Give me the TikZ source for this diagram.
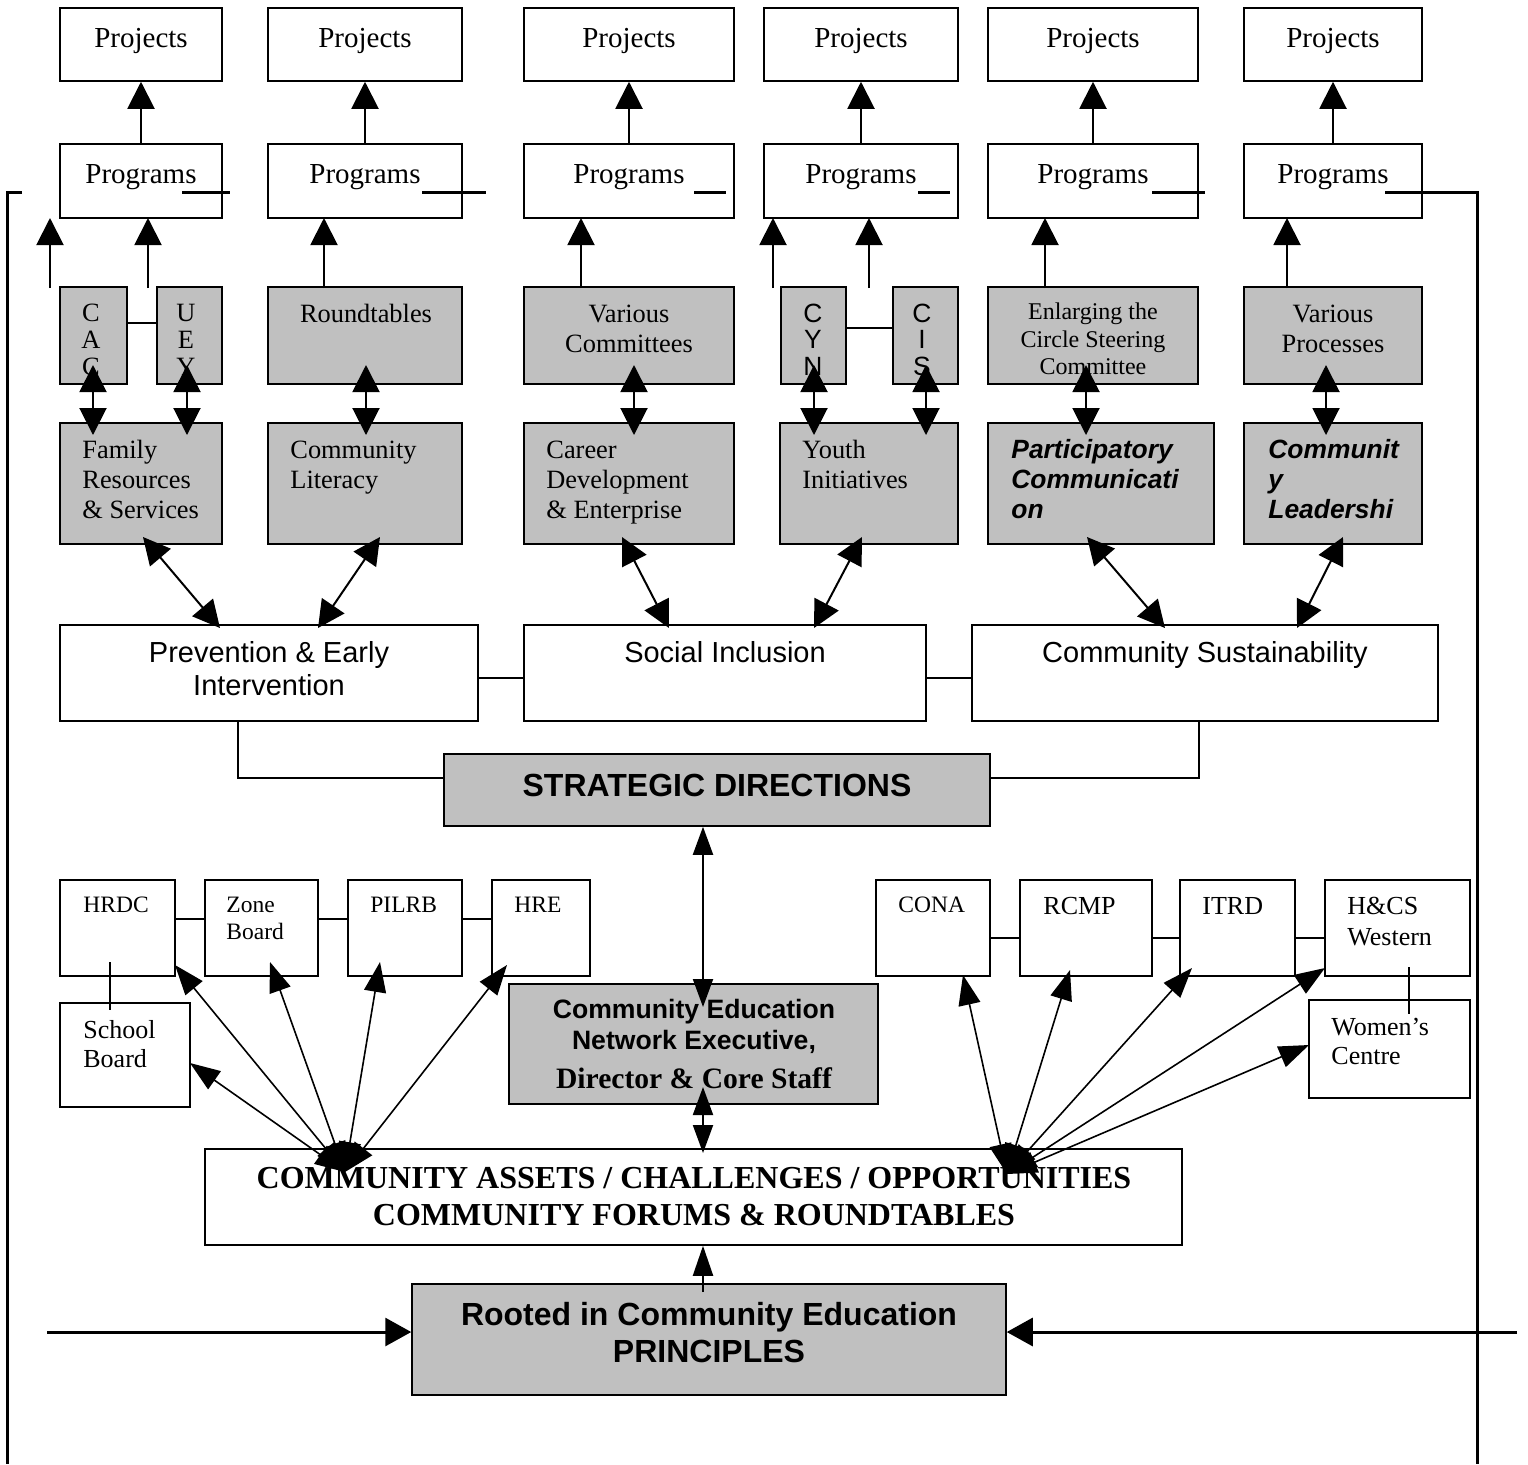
\documentclass[tikz,border=0pt]{standalone}
\usepackage{fontspec}
\setmainfont{Liberation Serif}
\setsansfont{Liberation Sans}
\usetikzlibrary{arrows.meta,fit}
\definecolor{boxgray}{HTML}{C0C0C0}
\newcommand\szProj{\fontsize{14.5pt}{17pt}\selectfont\rmfamily}
\newcommand\szSer{\fontsize{13.2pt}{15pt}\selectfont\rmfamily}
\newcommand\szEnl{\fontsize{12pt}{14pt}\selectfont\rmfamily}
\newcommand\szSansL{\fontsize{13.2pt}{15pt}\selectfont\sffamily}
\newcommand\szBI{\fontsize{13.2pt}{15pt}\selectfont\sffamily\bfseries\itshape}
\newcommand\szSD{\fontsize{14.5pt}{17pt}\selectfont\sffamily}
\newcommand\szBig{\fontsize{16pt}{19pt}\selectfont\sffamily\bfseries}
\newcommand\szCen{\fontsize{13.3pt}{16pt}\selectfont\sffamily\bfseries}
\newcommand\szDir{\fontsize{14.8pt}{17pt}\selectfont\rmfamily\bfseries}
\newcommand\szAss{\fontsize{16pt}{19pt}\selectfont\rmfamily\bfseries}
\newcommand\szSm{\fontsize{11.75pt}{14pt}\selectfont\rmfamily}
\newcommand\szMd{\fontsize{13pt}{15pt}\selectfont\rmfamily}
\begin{document}
\begin{tikzpicture}[x=0.5pt,y=-0.5pt,
  box/.style={draw,line width=0.75pt,inner sep=0pt},
  wbox/.style={box,fill=white},
  gbox/.style={box,fill=boxgray},
  ln/.style={line width=1pt},
  thk/.style={line width=1.5pt},
  tl/.style={inner sep=0pt,anchor=base west},
  tc/.style={inner sep=0pt,anchor=base},
  upar/.style={ln,-{Triangle[length=13.5pt,width=13.5pt]}},
  dbl/.style={ln,{Triangle[length=13.5pt,width=13.5pt]}-{Triangle[length=13.5pt,width=13.5pt]}},
  fan/.style={line width=0.8pt,{Triangle[length=15pt,width=11pt]}-{Triangle[length=15pt,width=11pt]}},
  nar/.style={ln,-{Triangle[length=15pt,width=10pt]}},
  ndbl/.style={ln,{Triangle[length=14pt,width=10pt]}-{Triangle[length=14pt,width=10pt]}},
  side/.style={thk,-{Triangle[length=13pt,width=14pt]}}
]
\useasboundingbox (0,0) rectangle (1528,1464);

% ---------- Row 1: Projects
\node[wbox,fit={(60,8)(222,81)}] (pj1) {};
\node[wbox,fit={(268,8)(462,81)}] (pj2) {};
\node[wbox,fit={(524,8)(734,81)}] (pj3) {};
\node[wbox,fit={(764,8)(958,81)}] (pj4) {};
\node[wbox,fit={(988,8)(1198,81)}] (pj5) {};
\node[wbox,fit={(1244,8)(1422,81)}] (pj6) {};
\foreach \n/\x in {1/141,2/365,3/629,4/861,5/1093,6/1333}
  \node[tc,font=\szProj] (pjt\n) at (\x,47) {Projects};

% ---------- Row 2: Programs
\node[wbox,fit={(60,144)(222,218)}] (pg1) {};
\node[wbox,fit={(268,144)(462,218)}] (pg2) {};
\node[wbox,fit={(524,144)(734,218)}] (pg3) {};
\node[wbox,fit={(764,144)(958,218)}] (pg4) {};
\node[wbox,fit={(988,144)(1198,218)}] (pg5) {};
\node[wbox,fit={(1244,144)(1422,218)}] (pg6) {};
\foreach \n/\x in {1/141,2/365,3/629,4/861,5/1093,6/1333}
  \node[tc,font=\szProj] (pgt\n) at (\x,183) {Programs};

% ---------- Row 3: grey boxes
\node[gbox,fit={(60,287)(127,384)}] (cac) {};
\node[gbox,fit={(157,287)(222,384)}] (uey) {};
\node[gbox,fit={(268,287)(462,384)}] (rt) {};
\node[gbox,fit={(524,287)(734,384)}] (vc) {};
\node[gbox,fit={(781,287)(846,384)}] (cyn) {};
\node[gbox,fit={(893,287)(958,384)}] (cis) {};
\node[gbox,fit={(988,287)(1198,384)}] (etc) {};
\node[gbox,fit={(1244,287)(1422,384)}] (vp) {};

\node[tc,font=\szSer] (cac1) at (91,321) {C};
\node[tc,font=\szSer] (cac2) at (91,348) {A};
\node[tc,font=\szSer] (cac3) at (91,375) {C};
\node[tc,font=\szSer] (uey1) at (186,321) {U};
\node[tc,font=\szSer] (uey2) at (186,348) {E};
\node[tc,font=\szSer] (uey3) at (186,375) {Y};
\node[tc,font=\szSer] (rtt) at (366,322) {Roundtables};
\node[tc,font=\szSer] (vct1) at (629,322) {Various};
\node[tc,font=\szSer] (vct2) at (629,352) {Committees};
\node[tc,font=\szSansL] (cyn1) at (813,322) {C};
\node[tc,font=\szSansL] (cyn2) at (813,348) {Y};
\node[tc,font=\szSansL] (cyn3) at (813,375) {N};
\node[tc,font=\szSansL] (cis1) at (922,322) {C};
\node[tc,font=\szSansL] (cis2) at (922,348) {I};
\node[tc,font=\szSansL] (cis3) at (922,375) {S};
\node[tc,font=\szEnl] (etc1) at (1093,319) {Enlarging the};
\node[tc,font=\szEnl] (etc2) at (1093,347) {Circle Steering};
\node[tc,font=\szEnl] (etc3) at (1093,374) {Committee};
\node[tc,font=\szSer] (vpt1) at (1333,322) {Various};
\node[tc,font=\szSer] (vpt2) at (1333,352) {Processes};

\draw[ln] (cac.east |- 0,323) -- (uey.west |- 0,323);
\draw[ln] (cyn.east |- 0,328) -- (cis.west |- 0,328);

% ---------- Row 4: grey boxes
\node[gbox,fit={(60,423)(222,544)}] (fam) {};
\node[gbox,fit={(268,423)(462,544)}] (lit) {};
\node[gbox,fit={(524,423)(734,544)}] (car) {};
\node[gbox,fit={(780,423)(958,544)}] (yth) {};
\node[gbox,fit={(988,423)(1214,544)}] (par) {};
\node[gbox,fit={(1244,423)(1422,544)}] (lead) {};

\node[tl,font=\szSer] (fam1) at (82,458) {Family};
\node[tl,font=\szSer] (fam2) at (82,488) {Resources};
\node[tl,font=\szSer] (fam3) at (82,518) {\& Services};
\node[tl,font=\szSer] (lit1) at (290,458) {Community};
\node[tl,font=\szSer] (lit2) at (290,488) {Literacy};
\node[tl,font=\szSer] (car1) at (546,458) {Career};
\node[tl,font=\szSer] (car2) at (546,488) {Development};
\node[tl,font=\szSer] (car3) at (546,518) {\& Enterprise};
\node[tl,font=\szSer] (yth1) at (802,458) {Youth};
\node[tl,font=\szSer] (yth2) at (802,488) {Initiatives};
\node[tl,font=\szBI] (par1) at (1011,458) {Participatory};
\node[tl,font=\szBI] (par2) at (1011,488) {Communicati};
\node[tl,font=\szBI] (par3) at (1011,518) {on};
\node[tl,font=\szBI] (lead1) at (1268,458) {Communit};
\node[tl,font=\szBI] (lead2) at (1268,488) {y};
\node[tl,font=\szBI] (lead3) at (1268,518) {Leadershi};

% ---------- Row 5: strategic areas
\node[wbox,fit={(60,625)(478,721)}] (pei) {};
\node[wbox,fit={(524,625)(926,721)}] (si) {};
\node[wbox,fit={(972,625)(1438,721)}] (cs) {};
\node[tc,font=\szSD] (pei1) at (269,662) {Prevention \& Early};
\node[tc,font=\szSD] (pei2) at (269,695) {Intervention};
\node[tc,font=\szSD] (sit) at (725,662) {Social Inclusion};
\node[tc,font=\szSD] (cst) at (1205,662) {Community Sustainability};
\draw[ln] (pei.east |- 0,678) -- (si.west |- 0,678);
\draw[ln] (si.east |- 0,678) -- (cs.west |- 0,678);

% ---------- Strategic directions
\node[gbox,fit={(444,754)(990,826)}] (sd) {};
\node[tc,font=\szBig] (sdt) at (717,796) {STRATEGIC DIRECTIONS};
\draw[ln] (238,721) -- (238,778) -- (sd.west |- 0,778);
\draw[ln] (1199,721) -- (1199,778) -- (sd.east |- 0,778);

% ---------- Left partner cluster
\node[wbox,fit={(60,880)(175,976)}] (hrdc) {};
\node[wbox,fit={(205,880)(318,976)}] (zone) {};
\node[wbox,fit={(348,880)(462,976)}] (pilrb) {};
\node[wbox,fit={(492,880)(590,976)}] (hre) {};
\node[wbox,fit={(60,1003)(190,1107)}] (sb) {};
\node[tl,font=\szSm] (hrdct) at (83,912) {HRDC};
\node[tl,font=\szSm] (zone1) at (226,912) {Zone};
\node[tl,font=\szSm] (zone2) at (226,939) {Board};
\node[tl,font=\szSm] (pilrbt) at (370,912) {PILRB};
\node[tl,font=\szSm] (hret) at (514,912) {HRE};
\node[tl,font=\szMd] (sb1) at (83,1038) {School};
\node[tl,font=\szMd] (sb2) at (83,1067) {Board};
\draw[ln] (hrdc.east |- 0,919) -- (zone.west |- 0,919);
\draw[ln] (zone.east |- 0,919) -- (pilrb.west |- 0,919);
\draw[ln] (pilrb.east |- 0,919) -- (hre.west |- 0,919);
\draw[ln] (110,962) -- (110,1010);

% ---------- Right partner cluster
\node[wbox,fit={(876,880)(990,976)}] (cona) {};
\node[wbox,fit={(1020,880)(1152,976)}] (rcmp) {};
\node[wbox,fit={(1180,880)(1295,976)}] (itrd) {};
\node[wbox,fit={(1325,880)(1470,976)}] (hcs) {};
\node[wbox,fit={(1309,1000)(1470,1098)}] (wc) {};
\node[tl,font=\szSm] (conat) at (898,912) {CONA};
\node[tl,font=\szMd] (rcmpt) at (1043,914) {RCMP};
\node[tl,font=\szMd] (itrdt) at (1202,914) {ITRD};
\node[tl,font=\szMd] (hcs1) at (1347,914) {H\&CS};
\node[tl,font=\szMd] (hcs2) at (1347,945) {Western};
\node[tl,font=\szMd] (wc1) at (1331,1035) {Women’s};
\node[tl,font=\szMd] (wc2) at (1331,1064) {Centre};
\draw[ln] (cona.east |- 0,938) -- (rcmp.west |- 0,938);
\draw[ln] (rcmp.east |- 0,938) -- (itrd.west |- 0,938);
\draw[ln] (itrd.east |- 0,938) -- (hcs.west |- 0,938);
\draw[ln] (1409,967) -- (1409,1014);

% ---------- Network executive
\node[gbox,fit={(509,984)(878,1104)}] (cen) {};
\node[tc,font=\szCen] (cen1) at (694,1018) {Community Education};
\node[tc,font=\szCen] (cen2) at (694,1049) {Network Executive,};
\node[tc,font=\szDir] (cen3) at (694,1088) {Director \& Core Staff};

% ---------- Community assets
\node[wbox,fit={(205,1149)(1182,1245)}] (ass) {};
\node[tc,font=\szAss] (ass1) at (694,1188) {COMMUNITY ASSETS / CHALLENGES / OPPORTUNITIES};
\node[tc,font=\szAss] (ass2) at (694,1225) {COMMUNITY FORUMS \& ROUNDTABLES};

% ---------- Principles
\node[gbox,fit={(412,1284)(1006,1395)}] (root) {};
\node[tc,font=\szBig] (root1) at (709,1325) {Rooted in Community Education};
\node[tc,font=\szBig] (root2) at (709,1362) {PRINCIPLES};

% ---------- Arrows Programs -> Projects
\foreach \n in {1,...,6}
  \draw[upar] (pg\n.north) -- (pj\n.south);

% ---------- Arrows row 3 -> Programs
\foreach \x/\p in {50/1,148/1,324/2,581/3,773/4,869/4,1045/5,1287/6}
  \draw[upar] (\x,288) -- (\x,218);

% ---------- Double arrows row 3 <-> row 4
\foreach \x in {93,187,366,634,814,926,1086,1326}
  \draw[dbl] (\x,365) -- (\x,435);

% ---------- Diagonal double arrows row 4 <-> row 5
\draw[dbl] (143,537) -- (220,628);
\draw[dbl] (380,537) -- (318,628);
\draw[dbl] (622,537) -- (669,628);
\draw[dbl] (862,537) -- (814,628);
\draw[dbl] (1087,537) -- (1165,628);
\draw[dbl] (1343,537) -- (1297,628);

% ---------- Central axis
\draw[ndbl] (703,1007) -- (sd.south -| 703,0);
\draw[ndbl] (703,1087) -- (703,1153);
\draw[nar] (703,1292) -- (ass.south -| 703,0);

% ---------- Fans
\coordinate (lf) at (345,1172);
\draw[fan] (lf) -- (190,1063);
\draw[fan] (lf) -- (175,965);
\draw[fan] (lf) -- (270,962);
\draw[fan] (lf) -- (380,962);
\draw[fan] (lf) -- (507,965);
\coordinate (rf) at (1007,1174);
\draw[fan] (rf) -- (963,975);
\draw[fan] (rf) -- (1070,970);
\draw[fan] (rf) -- (1192,968);
\draw[fan] (rf) -- (1325,968);
\draw[fan] (rf) -- (1309,1045);

% ---------- Short lines after Programs and outer loop
\draw[thk] (182,192) -- (230,192);
\draw[thk] (422,192) -- (486,192);
\draw[thk] (694,192) -- (726,192);
\draw[thk] (918,192) -- (950,192);
\draw[thk] (1152,192) -- (1205,192);
\draw[thk] (22,192) -- (7,192) -- (7,1464);
\draw[thk] (1385,192) -- (1477,192) -- (1477,1464);
\draw[side] (47,1332) -- (root.west |- 0,1332);
\draw[side] (1517,1332) -- (root.east |- 0,1332);
\end{tikzpicture}
\end{document}
